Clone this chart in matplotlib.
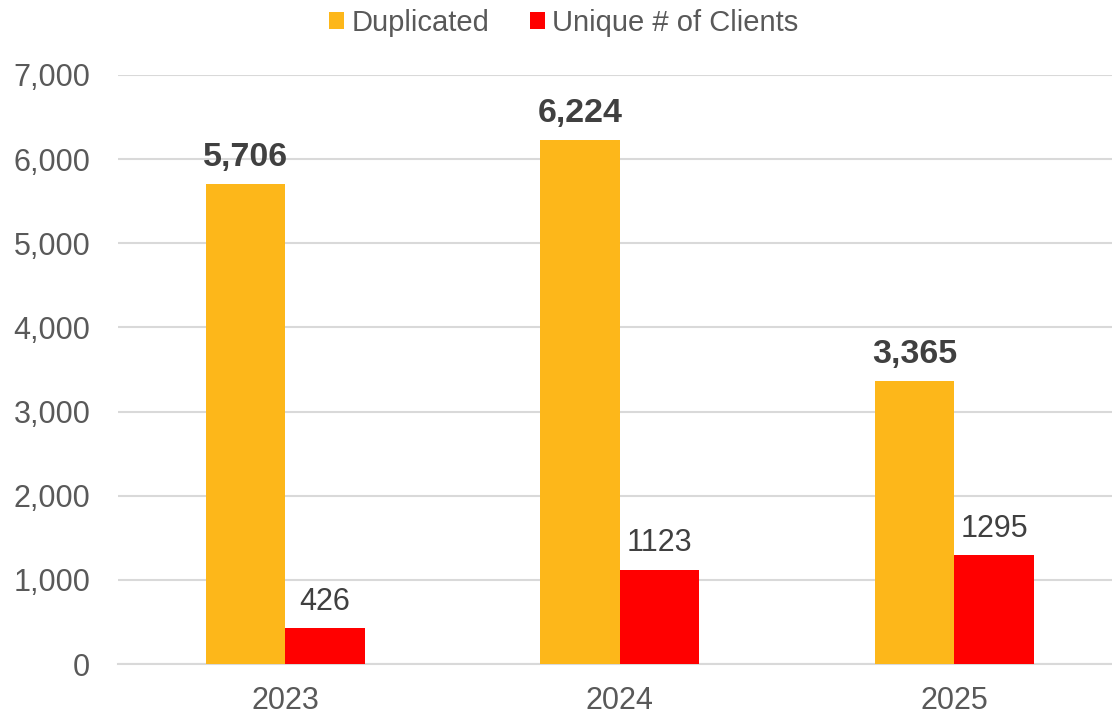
import numpy as np
import matplotlib
matplotlib.use('Agg')
import matplotlib.pyplot as plt
from matplotlib.ticker import FuncFormatter

plt.rcParams['font.family'] = ['Liberation Sans', 'DejaVu Sans']

years = ['2023', '2024', '2025']
duplicated = [5706, 6224, 3365]
unique_clients = [426, 1123, 1295]
series_names = ['Duplicated', 'Unique # of Clients']

yellow = '#FDB71A'
red = '#FF0000'
grid_col = '#D9D9D9'
tick_col = '#595959'
label_col = '#404040'

fig = plt.figure(figsize=(11.12, 7.16), dpi=100)
ax = fig.add_axes([118 / 1112, 52 / 716, 1003.5 / 1112, 589 / 716])

x = np.arange(len(years))
w = 0.2375
b1 = ax.bar(x - w / 2, duplicated, w, color=yellow, label=series_names[0], zorder=3)
b2 = ax.bar(x + w / 2, unique_clients, w, color=red, label=series_names[1], zorder=3)

# data labels: bold with comma for duplicated, plain for unique
for bar, v in zip(b1, duplicated):
    ax.annotate(f'{v:,}', (bar.get_x() + bar.get_width() / 2, v),
                xytext=(0, 8), textcoords='offset points', ha='center', va='bottom',
                fontsize=24.5, fontweight='bold', color=label_col)
for bar, v in zip(b2, unique_clients):
    ax.annotate(f'{v}', (bar.get_x() + bar.get_width() / 2, v),
                xytext=(0, 8), textcoords='offset points', ha='center', va='bottom',
                fontsize=22, color=label_col)

ax.set_xlim(-0.5, 2.5)
ax.set_ylim(0, 7000)
ax.set_yticks(range(0, 7001, 1000))
ax.yaxis.set_major_formatter(FuncFormatter(lambda v, p: f'{int(v):,}'))
ax.set_xticks(x)
ax.set_xticklabels(years)

ax.grid(axis='y', color=grid_col, linewidth=1.5, zorder=0)
for s in ['top', 'right', 'left']:
    ax.spines[s].set_visible(False)
ax.spines['bottom'].set_color(grid_col)
ax.spines['bottom'].set_linewidth(1.5)
ax.tick_params(axis='both', length=0, labelsize=22, labelcolor=tick_col)
ax.tick_params(axis='y', pad=20)
ax.tick_params(axis='x', pad=16)

fig.legend(loc='center', bbox_to_anchor=(0.507, 1 - 23 / 716), ncol=2, frameon=False,
           fontsize=21, labelcolor=tick_col, handlelength=0.5, handleheight=0.5,
           handletextpad=0.25, columnspacing=1.4, borderpad=0)

fig.savefig('out.png', dpi=100)
